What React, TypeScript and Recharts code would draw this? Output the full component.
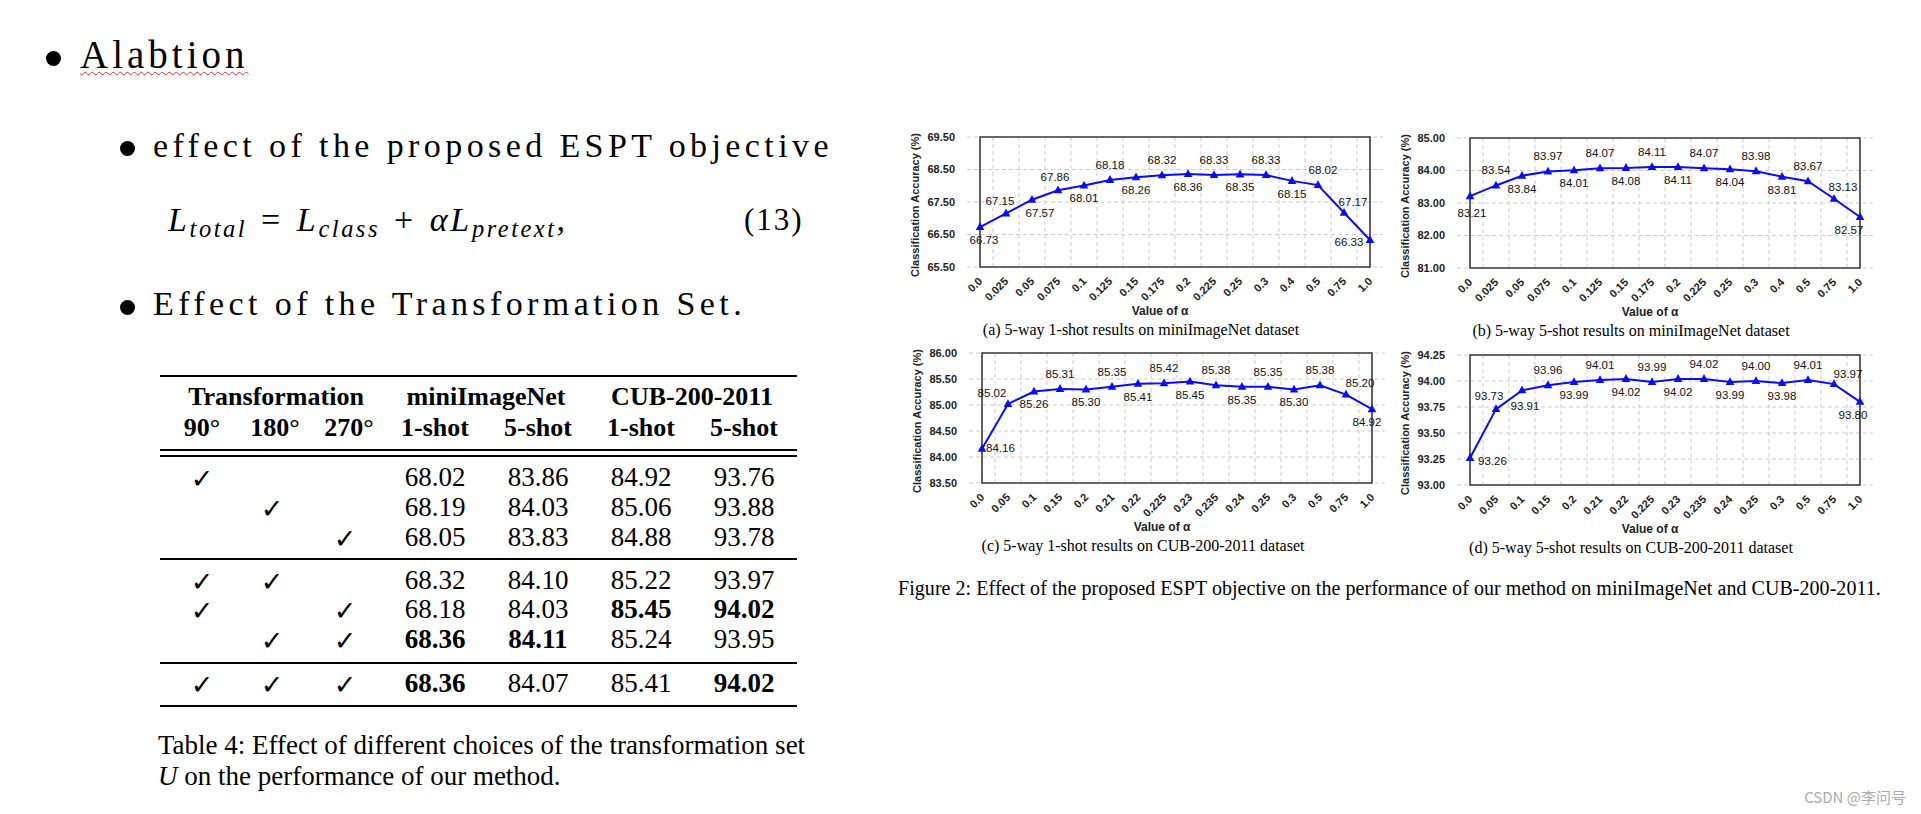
import React from 'react';
import { LineChart, Line, XAxis, YAxis, CartesianGrid, ReferenceArea } from 'recharts';

// alpha values on the x axes
const ALPHA_MINI = ['0.0', '0.025', '0.05', '0.075', '0.1', '0.125', '0.15', '0.175', '0.2', '0.225', '0.25', '0.3', '0.4', '0.5', '0.75', '1.0'];
const ALPHA_CUB = ['0.0', '0.05', '0.1', '0.15', '0.2', '0.21', '0.22', '0.225', '0.23', '0.235', '0.24', '0.25', '0.3', '0.5', '0.75', '1.0'];

// classification accuracy (%)
const MINI_1SHOT = [66.73, 67.15, 67.57, 67.86, 68.01, 68.18, 68.26, 68.32, 68.36, 68.33, 68.35, 68.33, 68.15, 68.02, 67.17, 66.33];
const MINI_5SHOT = [83.21, 83.54, 83.84, 83.97, 84.01, 84.07, 84.08, 84.11, 84.11, 84.07, 84.04, 83.98, 83.81, 83.67, 83.13, 82.57];
const CUB_1SHOT = [84.16, 85.02, 85.26, 85.31, 85.30, 85.35, 85.41, 85.42, 85.45, 85.38, 85.35, 85.35, 85.30, 85.38, 85.20, 84.92];
const CUB_5SHOT = [93.26, 93.73, 93.91, 93.96, 93.99, 94.01, 94.02, 93.99, 94.02, 94.02, 93.99, 94.00, 93.98, 94.01, 93.97, 93.80];

// y axis ticks
const TICKS_MINI_1SHOT = [65.5, 66.5, 67.5, 68.5, 69.5];
const TICKS_MINI_5SHOT = [81, 82, 83, 84, 85];
const TICKS_CUB_1SHOT = [83.5, 84, 84.5, 85, 85.5, 86];
const TICKS_CUB_5SHOT = [93, 93.25, 93.5, 93.75, 94, 94.25];

// table 4: which rotations are used, and the results
const USE_90 = [1, 0, 0, 1, 1, 0, 1];
const USE_180 = [0, 1, 0, 1, 0, 1, 1];
const USE_270 = [0, 0, 1, 0, 1, 1, 1];
const T_MINI_1SHOT = [68.02, 68.19, 68.05, 68.32, 68.18, 68.36, 68.36];
const T_MINI_5SHOT = [83.86, 84.03, 83.83, 84.10, 84.03, 84.11, 84.07];
const T_CUB_1SHOT = [84.92, 85.06, 84.88, 85.22, 85.45, 85.24, 85.41];
const T_CUB_5SHOT = [93.76, 93.88, 93.78, 93.97, 94.02, 93.95, 94.02];

const SANS = '"Liberation Sans", Arial, sans-serif';
const SERIF = '"Liberation Serif", "Times New Roman", serif';
const BLUE = '#0a0aff';

type Nudge = { dx: number; dy: number; anchor?: string };

const NUDGE_A: Record<number, Nudge> = {
  0: { dx: 4, dy: 13 }, 1: { dx: -6, dy: -12 }, 2: { dx: 8, dy: 13 }, 3: { dx: -3, dy: -13 },
  13: { dx: 5, dy: -15 }, 14: { dx: 9, dy: -11 }, 15: { dx: -21, dy: 2 },
};
const NUDGE_B: Record<number, Nudge> = {
  0: { dx: 2, dy: 17 }, 14: { dx: 9, dy: -12 }, 15: { dx: -11, dy: 13 },
};
const NUDGE_C: Record<number, Nudge> = {
  0: { dx: 4, dy: -1, anchor: 'start' }, 1: { dx: -16, dy: -11 }, 14: { dx: 14, dy: -12 }, 15: { dx: -5, dy: 13 },
};
const NUDGE_D: Record<number, Nudge> = {
  0: { dx: 8, dy: 3, anchor: 'start' }, 1: { dx: -7, dy: -13 }, 2: { dx: 3, dy: 16 },
  14: { dx: 14, dy: -10 }, 15: { dx: -7, dy: 13 },
};

const TriangleDot = (props: any) => {
  const { cx, cy, index } = props;
  if (cx == null || cy == null) return null;
  return (
    <polygon
      key={`tri-${index}`}
      points={`${cx},${cy - 4.8} ${cx - 4.3},${cy + 3} ${cx + 4.3},${cy + 3}`}
      fill={BLUE}
    />
  );
};

const AlphaTick = (props: any) => {
  const { x, y, payload } = props;
  return (
    <g transform={`translate(${x + 3},${y + 15})`}>
      <text textAnchor="end" transform="rotate(-45)" fontSize={11} fontWeight={700} fill="#222" fontFamily={SANS}>
        {payload.value}
      </text>
    </g>
  );
};

const makeLabel = (nudges: Record<number, Nudge>) => (props: any) => {
  const { x, y, value, index } = props;
  const n = nudges[index];
  const dx = n ? n.dx : 0;
  const dy = n ? n.dy : index % 2 ? -15 : 13;
  return (
    <text
      key={`lbl-${index}`}
      x={x + dx}
      y={y + dy}
      textAnchor={n && n.anchor ? n.anchor : 'middle'}
      dominantBaseline="central"
      fontSize={11.5}
      fill="#111"
      fontFamily={SANS}
    >
      {Number(value).toFixed(2)}
    </text>
  );
};

const PW = 416;
const PH = 130;

function AlphaPanel({ plotX, plotY, alphas, values, ticks, nudges, caption }: any) {
  const data = alphas.map((a: string, i: number) => ({ alpha: a, acc: values[i] }));
  const W = 67 + PW + 10;
  const H = 15 + PH + 55;
  const n = alphas.length;

  const xTitle = (p: any) => {
    const vb = p.viewBox;
    return (
      <text x={vb.x + vb.width / 2 - 15} y={vb.y + 44} textAnchor="middle" dominantBaseline="central"
        fontSize={12} fontWeight={700} fill="#222" fontFamily={SANS}>
        Value of α
      </text>
    );
  };
  const yTitle = (p: any) => {
    const vb = p.viewBox;
    const cx = vb.x + 8;
    const cy = vb.y + vb.height / 2 + 3;
    return (
      <text x={cx} y={cy} transform={`rotate(-90 ${cx} ${cy})`} textAnchor="middle" dominantBaseline="central"
        fontSize={11} fontWeight={700} fill="#222" fontFamily={SANS}>
        Classification Accuracy (%)
      </text>
    );
  };

  return (
    <>
      <div style={{ position: 'absolute', left: plotX - 67, top: plotY - 15, width: W, height: H }}>
        <LineChart width={W} height={H} data={data} margin={{ top: 15, right: 10, bottom: 0, left: 7 }}>
          <CartesianGrid
            stroke="#cdcdcd"
            strokeDasharray="4 3"
            verticalCoordinatesGenerator={(g: any) => {
              const left = g && g.offset ? g.offset.left : 67;
              const width = g && g.offset ? g.offset.width : PW;
              return alphas.slice(1).map((_: string, k: number) => left + ((k + 1) * width) / n);
            }}
          />
          <XAxis
            dataKey="alpha"
            interval={0}
            padding={{ left: PW / n / 2, right: PW / n / 2 }}
            height={55}
            tickSize={0}
            tickMargin={0}
            axisLine={false}
            tickLine={false}
            tick={<AlphaTick />}
            label={xTitle}
          />
          <YAxis
            domain={[ticks[0], ticks[ticks.length - 1]]}
            ticks={ticks}
            width={60}
            tickSize={6}
            tickMargin={6}
            tickLine={false}
            axisLine={false}
            tick={{ fontSize: 11, fontWeight: 700, fill: '#222', fontFamily: SANS }}
            tickFormatter={(v: number) => v.toFixed(2)}
            label={yTitle}
          />
          <ReferenceArea
            y1={ticks[0]}
            y2={ticks[ticks.length - 1]}
            fill="none"
            stroke="#3a3a3a"
            strokeWidth={1.6}
            ifOverflow="visible"
          />
          <Line
            dataKey="acc"
            stroke={BLUE}
            strokeWidth={2}
            dot={<TriangleDot />}
            activeDot={false}
            isAnimationActive={false}
            label={makeLabel(nudges)}
          />
        </LineChart>
      </div>
      <div style={{
        position: 'absolute', left: plotX + 174 - 250, width: 500, textAlign: 'center',
        top: plotY + PH + 68 - 0.8375 * 16, fontSize: 16, lineHeight: '16px', fontFamily: SERIF, whiteSpace: 'nowrap',
      }}>
        {caption}
      </div>
    </>
  );
}

const Bullet = ({ left, top, size }: any) => (
  <div style={{ position: 'absolute', left, top, width: size, height: size, borderRadius: '50%', background: '#000' }} />
);

const txt = (left: number, baseline: number, fs: number, extra: any = {}) => ({
  position: 'absolute' as const,
  left,
  top: baseline - 0.8375 * fs,
  fontSize: fs,
  lineHeight: `${fs}px`,
  fontFamily: SERIF,
  whiteSpace: 'nowrap' as const,
  ...extra,
});

function Table4() {
  const colX = [202, 275, 349, 435, 538, 641, 744];
  const rowY = [477, 507, 537, 580, 609, 639, 683];
  const cols = [T_MINI_1SHOT, T_MINI_5SHOT, T_CUB_1SHOT, T_CUB_5SHOT];
  const maxes = cols.map((c) => Math.max(...c));
  const uses = [USE_90, USE_180, USE_270];
  const rule = (y: number, h: number) => (
    <div style={{ position: 'absolute', left: 160, width: 637, top: y - h / 2, height: h, background: '#000' }} />
  );
  const cell = (x: number, y: number, content: any, fs: number, bold: boolean, family = SERIF) => (
    <div style={{
      position: 'absolute', left: x - 150, width: 300, textAlign: 'center', top: y - fs / 2,
      fontSize: fs, lineHeight: `${fs}px`, fontWeight: bold ? 700 : 400, fontFamily: family, whiteSpace: 'nowrap',
    }}>
      {content}
    </div>
  );
  const headers2 = ['90°', '180°', '270°', '1-shot', '5-shot', '1-shot', '5-shot'];
  return (
    <>
      {rule(376, 2.6)}
      {cell(276, 397, 'Transformation', 26, true)}
      {cell(486, 397, 'miniImageNet', 26, true)}
      {cell(692, 397, 'CUB-200-2011', 26, true)}
      {headers2.map((h, i) => <React.Fragment key={`h${i}`}>{cell(colX[i], 428, h, 26, true)}</React.Fragment>)}
      {rule(450, 1.3)}
      {rule(456, 1.3)}
      {rowY.map((y, r) => (
        <React.Fragment key={`r${r}`}>
          {uses.map((u, c) => u[r] ? <React.Fragment key={`u${c}`}>{cell(colX[c] - (c === 1 ? 3 : c === 2 ? 4 : 0), y + 1, '✓', 27, false, '"DejaVu Sans", sans-serif')}</React.Fragment> : null)}
          {cols.map((col, c) => (
            <React.Fragment key={`v${c}`}>{cell(colX[3 + c], y, col[r].toFixed(2), 27, col[r] === maxes[c])}</React.Fragment>
          ))}
        </React.Fragment>
      ))}
      {rule(559, 1.3)}
      {rule(663, 1.3)}
      {rule(706, 2.8)}
      <div style={txt(158, 755, 27)}>Table 4: Effect of different choices of the transformation set</div>
      <div style={txt(158, 786, 27)}><i>U</i> on the performance of our method.</div>
    </>
  );
}

export default function App() {
  const sub = { fontSize: '0.72em', position: 'relative' as const, top: '0.28em', letterSpacing: 2.5 };
  return (
    <div style={{ position: 'relative', width: 1921, height: 814, background: '#fff', overflow: 'hidden', color: '#000' }}>
      <style>{'body{margin:0;}'}</style>

      <Bullet left={46} top={51} size={15} />
      <div style={txt(80, 68, 39, { letterSpacing: 4, textDecoration: 'underline wavy #d83030', textDecorationThickness: 1, textUnderlineOffset: 3 })}>
        Alabtion
      </div>

      <Bullet left={120} top={141} size={15} />
      <div style={txt(153, 157, 34, { letterSpacing: 4.4 })}>effect of the proposed ESPT objective</div>

      <div style={txt(168, 231, 34, { letterSpacing: 2.7 })}>
        <i>L</i><span style={sub}><i>total</i></span>
        <span style={{ margin: '0 14px' }}>=</span>
        <i>L</i><span style={sub}><i>class</i></span>
        <span style={{ margin: '0 14px' }}>+</span>
        <i>αL</i><span style={sub}><i>pretext</i></span>,
      </div>
      <div style={txt(744, 230, 31, { letterSpacing: 2 })}>(13)</div>

      <Bullet left={120} top={300} size={15} />
      <div style={txt(153, 315, 34, { letterSpacing: 4.4 })}>Effect of the Transformation Set.</div>

      <Table4 />

      <AlphaPanel plotX={967} plotY={137} alphas={ALPHA_MINI} values={MINI_1SHOT} ticks={TICKS_MINI_1SHOT}
        nudges={NUDGE_A} caption="(a) 5-way 1-shot results on miniImageNet dataset" />
      <AlphaPanel plotX={1457} plotY={138} alphas={ALPHA_MINI} values={MINI_5SHOT} ticks={TICKS_MINI_5SHOT}
        nudges={NUDGE_B} caption="(b) 5-way 5-shot results on miniImageNet dataset" />
      <AlphaPanel plotX={969} plotY={353} alphas={ALPHA_CUB} values={CUB_1SHOT} ticks={TICKS_CUB_1SHOT}
        nudges={NUDGE_C} caption="(c) 5-way 1-shot results on CUB-200-2011 dataset" />
      <AlphaPanel plotX={1457} plotY={355} alphas={ALPHA_CUB} values={CUB_5SHOT} ticks={TICKS_CUB_5SHOT}
        nudges={NUDGE_D} caption="(d) 5-way 5-shot results on CUB-200-2011 dataset" />

      <div style={txt(898, 595, 20, { letterSpacing: 0.05 })}>
        Figure 2: Effect of the proposed ESPT objective on the performance of our method on miniImageNet and CUB-200-2011.
      </div>

      <div style={{
        position: 'absolute', right: 15, top: 789, fontSize: 15, lineHeight: '16px', color: '#aaa',
        fontFamily: '"Noto Sans CJK SC", "Noto Sans", sans-serif', whiteSpace: 'nowrap',
      }}>
        CSDN @李问号
      </div>
    </div>
  );
}
